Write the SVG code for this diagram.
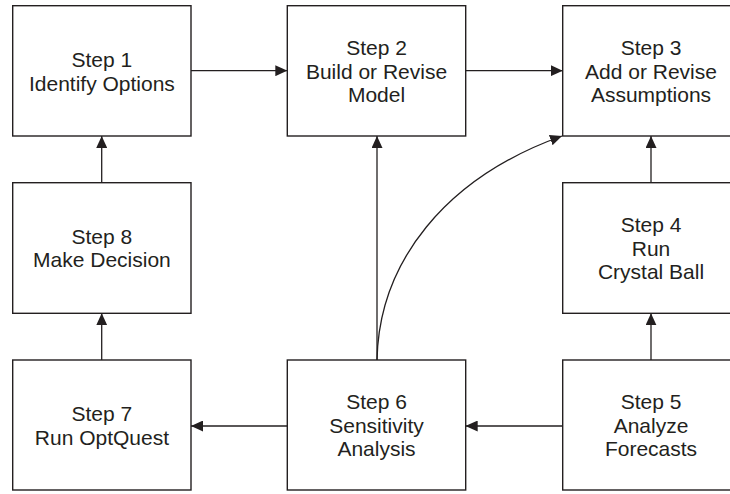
<svg xmlns="http://www.w3.org/2000/svg" width="730" height="494" viewBox="0 0 730 494">
<defs>
<style>
.box{fill:#fff;stroke:#231f20;stroke-width:1.4}
.lbl{font-family:"Liberation Sans",Arial,Helvetica,sans-serif;font-size:21px;fill:#231f20;text-anchor:middle}
.edge{fill:none;stroke:#231f20;stroke-width:1.3;marker-end:url(#ah)}
</style>
<marker id="ah" markerUnits="userSpaceOnUse" markerWidth="12" markerHeight="11" refX="12" refY="5.5" orient="auto">
<path d="M0,0 L12,5.5 L0,11 Z" fill="#231f20"/>
</marker>
</defs>
<rect width="730" height="494" fill="#fff"/>
<g id="connectors">
<line class="edge" x1="191" y1="70.7" x2="287.3" y2="70.7"/>
<line class="edge" x1="465.7" y1="70.7" x2="562.7" y2="70.7"/>
<line class="edge" x1="101.7" y1="182.7" x2="101.7" y2="136"/>
<line class="edge" x1="651" y1="182.7" x2="651" y2="136"/>
<line class="edge" x1="377" y1="360" x2="377" y2="136"/>
<line class="edge" x1="651" y1="360" x2="651" y2="313.3"/>
<line class="edge" x1="101.7" y1="360" x2="101.7" y2="313.3"/>
<line class="edge" x1="287.3" y1="426" x2="191" y2="426"/>
<line class="edge" x1="562.7" y1="426" x2="465.7" y2="426"/>
<path class="edge" d="M377,360 C379,262 445,178 562,136"/>
</g>
<g id="step1">
<rect class="box" x="12.7" y="5.7" width="178.3" height="130.3"/>
<text class="lbl" x="101.9" y="66.7">Step 1</text>
<text class="lbl" x="101.9" y="90.5">Identify Options</text>
</g>
<g id="step2">
<rect class="box" x="287.3" y="5.7" width="178.4" height="130.3"/>
<text class="lbl" x="376.5" y="54.8">Step 2</text>
<text class="lbl" x="376.5" y="78.5">Build or Revise</text>
<text class="lbl" x="376.5" y="102">Model</text>
</g>
<g id="step3">
<rect class="box" x="562.7" y="5.7" width="178.3" height="130.3"/>
<text class="lbl" x="651" y="54.8">Step 3</text>
<text class="lbl" x="651" y="78.5">Add or Revise</text>
<text class="lbl" x="651" y="102">Assumptions</text>
</g>
<g id="step4">
<rect class="box" x="562.7" y="182.7" width="178.3" height="130.6"/>
<text class="lbl" x="651" y="231.9">Step 4</text>
<text class="lbl" x="651" y="255.5">Run</text>
<text class="lbl" x="651" y="279">Crystal Ball</text>
</g>
<g id="step5">
<rect class="box" x="562.7" y="360" width="178.3" height="130"/>
<text class="lbl" x="651" y="409.2">Step 5</text>
<text class="lbl" x="651" y="432.8">Analyze</text>
<text class="lbl" x="651" y="456.3">Forecasts</text>
</g>
<g id="step6">
<rect class="box" x="287.3" y="360" width="178.4" height="130"/>
<text class="lbl" x="376.5" y="409.2">Step 6</text>
<text class="lbl" x="376.5" y="432.8">Sensitivity</text>
<text class="lbl" x="376.5" y="456.3">Analysis</text>
</g>
<g id="step7">
<rect class="box" x="12.7" y="360" width="178.3" height="130"/>
<text class="lbl" x="101.9" y="421">Step 7</text>
<text class="lbl" x="101.9" y="444.7">Run OptQuest</text>
</g>
<g id="step8">
<rect class="box" x="12.7" y="182.7" width="178.3" height="130.6"/>
<text class="lbl" x="101.9" y="243.7">Step 8</text>
<text class="lbl" x="101.9" y="267.4">Make Decision</text>
</g>
</svg>
